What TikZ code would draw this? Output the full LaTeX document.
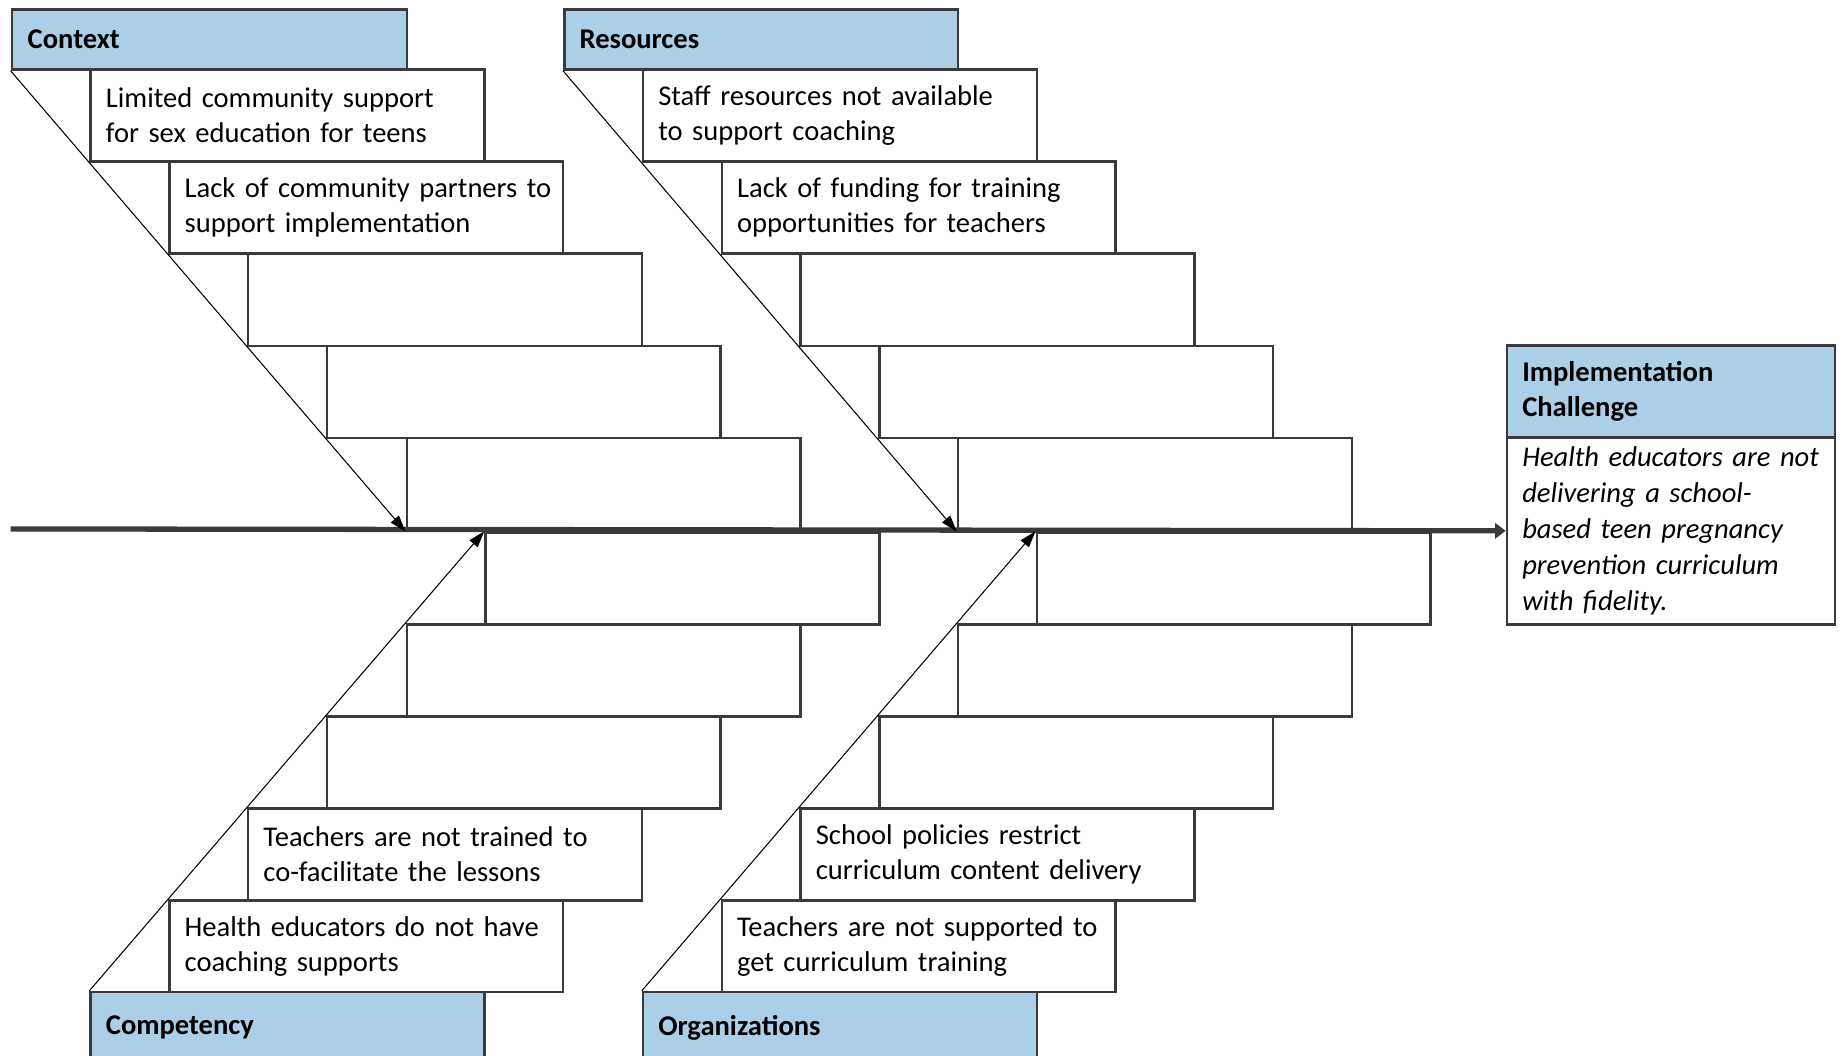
\documentclass[tikz,border=0pt]{standalone}
\usepackage{fontspec}
\setmainfont{Carlito}
\usetikzlibrary{arrows.meta}
\definecolor{headblue}{RGB}{170,207,230}
\definecolor{linec}{RGB}{58,58,58}
\tikzset{
  cause/.style={draw=linec, line width=2.2pt, fill=white, minimum width=335pt,
    minimum height=78.4pt, inner xsep=13pt, inner ysep=0pt, text width=309pt,
    align=left, anchor=north west, font=\fontsize{24.3}{30}\selectfont},
  headbox/.style={cause, fill=headblue, minimum height=51pt, font=\fontsize{24.3}{30}\selectfont\bfseries},
  lowbox/.style={cause, minimum height=78.2pt},
  lowhead/.style={headbox, minimum height=60pt},
  impl/.style={cause, minimum width=279pt, text width=253pt},
  bone/.style={draw=black, line width=0.9pt, -{Triangle[length=14pt,width=9pt]}},
  spine/.style={draw=linec, line width=4.5pt, -{Triangle[length=9pt,width=13pt]}}
}
\begin{document}
\begin{tikzpicture}[x=1pt,y=-1pt]
\clip (0,0) rectangle (1568,898);
% Context
\node[headbox, minimum width=336pt] (hc) at (9,7) {Context};
\node[cause] (c1) at (76,58) {\mbox{Limited community support}\\\mbox{for sex education for teens}};
\node[cause] (c2) at (143,136.4) {\mbox{Lack of community partners to}\\\mbox{support implementation}};
\node[cause] (c3) at (210,214.8) {};
\node[cause] (c4) at (277,293.2) {};
\node[cause] (c5) at (345,371.6) {};
% Resources
\node[headbox] (hr) at (479,7) {Resources};
\node[cause] (r1) at (546,58) {\mbox{Staff resources not available}\\\mbox{to support coaching}};
\node[cause] (r2) at (613,136.4) {\mbox{Lack of funding for training}\\\mbox{opportunities for teachers}};
\node[cause] (r3) at (680,214.8) {};
\node[cause] (r4) at (747,293.2) {};
\node[cause] (r5) at (814,371.6) {};
% Competency
\node[lowbox] (p5) at (412,452) {};
\node[lowbox] (p4) at (345,530.2) {};
\node[lowbox] (p3) at (277,608.4) {};
\node[lowbox] (p2) at (210,686.6) {\mbox{Teachers are not trained to}\\\mbox{co-facilitate the lessons}};
\node[lowbox] (p1) at (143,764.8) {\mbox{Health educators do not have}\\\mbox{coaching supports}};
\node[lowhead] (hp) at (76,843) {Competency};
% Organizations
\node[lowbox] (o5) at (881,452) {};
\node[lowbox] (o4) at (814,530.2) {};
\node[lowbox] (o3) at (747,608.4) {};
\node[lowbox] (o2) at (680,686.6) {\mbox{School policies restrict}\\\mbox{curriculum content delivery}};
\node[lowbox] (o1) at (613,764.8) {\mbox{Teachers are not supported to}\\\mbox{get curriculum training}};
\node[lowhead] (ho) at (546,843) {Organizations};
% Implementation challenge
\node[impl, fill=headblue, minimum height=78pt, font=\fontsize{24.3}{30}\selectfont\bfseries] (ih) at (1281,293) {Implementation\\Challenge};
\node[impl, minimum height=159pt, font=\fontsize{24.3}{30.7}\selectfont\itshape] (ib) at (1281,371) {Health educators are not\\delivering a school-\\based teen pregnancy\\prevention curriculum\\with fidelity.};
% spine
\coordinate (sl) at (9,450);
\draw[spine] (sl) -- (ib.west);
% bones
\draw[bone] (hc.south west) -- (c5.south west);
\draw[bone] (hr.south west) -- (r5.south west);
\draw[bone] (hp.north west) -- (p5.north west);
\draw[bone] (ho.north west) -- (o5.north west);
\end{tikzpicture}
\end{document}
